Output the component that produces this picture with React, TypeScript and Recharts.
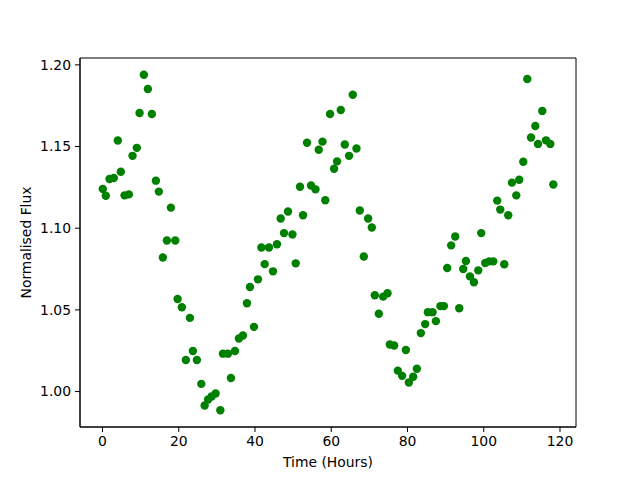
import React from 'react';
import {
  ScatterChart,
  Scatter,
  XAxis,
  YAxis,
  ReferenceArea,
} from 'recharts';

// time of each observation, hours
const timeHours = [
  0.08, 0.87, 1.84, 2.97, 4.02, 4.81, 5.78, 6.91, 7.88, 9.01,
  9.72, 10.85, 11.9, 12.95, 14.0, 14.78, 15.83, 16.89, 17.94, 19.09,
  19.7, 20.82, 21.87, 22.93, 23.71, 24.76, 25.92, 26.79, 27.7, 28.62,
  29.67, 30.91, 31.59, 32.9, 33.69, 34.74, 35.79, 36.84, 37.89, 38.68,
  39.73, 40.78, 41.68, 42.54, 43.67, 44.72, 45.77, 46.74, 47.61, 48.66,
  49.82, 50.68, 51.81, 52.6, 53.65, 54.7, 55.86, 56.72, 57.7, 58.43,
  59.69, 60.74, 61.53, 62.5, 63.55, 64.68, 65.65, 66.62, 67.49, 68.54,
  69.67, 70.64, 71.43, 72.48, 73.61, 74.76, 75.37, 76.5, 77.47, 78.6,
  79.57, 80.36, 81.49, 82.46, 83.51, 84.64, 85.35, 86.58, 87.45, 88.63,
  89.55, 90.42, 91.46, 92.52, 93.57, 94.62, 95.33, 96.38, 97.43, 98.56,
  99.34, 100.39, 101.44, 102.5, 103.54, 104.33, 105.38, 106.43, 107.4, 108.53,
  109.32, 110.37, 111.42, 112.4, 113.53, 114.23, 115.36, 116.33, 117.46, 118.25,
];

// normalised flux at each time
const flux = [
  1.124, 1.1199, 1.1301, 1.1307, 1.1537, 1.1346, 1.1201, 1.1207, 1.1443, 1.1492,
  1.1705, 1.1939, 1.1852, 1.1699, 1.1291, 1.1224, 1.0821, 1.0925, 1.1126, 1.0925,
  1.0567, 1.0516, 1.0193, 1.0451, 1.0248, 1.0193, 1.0047, 0.9915, 0.9951, 0.997,
  0.9988, 0.9886, 1.0232, 1.0232, 1.0083, 1.0248, 1.0325, 1.0343, 1.0541, 1.064,
  1.0396, 1.0687, 1.0882, 1.078, 1.0882, 1.0736, 1.0902, 1.1059, 1.097, 1.1102,
  1.0962, 1.0785, 1.1254, 1.1079, 1.1523, 1.1262, 1.1238, 1.148, 1.153, 1.1171,
  1.1699, 1.1364, 1.1409, 1.1724, 1.1512, 1.1443, 1.1817, 1.1488, 1.1108, 1.0827,
  1.1059, 1.1004, 1.059, 1.0476, 1.0581, 1.0602, 1.0288, 1.0282, 1.0128, 1.0096,
  1.0254, 1.0055, 1.0091, 1.014, 1.0358, 1.0413, 1.0486, 1.0486, 1.0431, 1.0523,
  1.0523, 1.0756, 1.0895, 1.0949, 1.051, 1.075, 1.0799, 1.0705, 1.0669, 1.0742,
  1.097, 1.0787, 1.0797, 1.0797, 1.1169, 1.1114, 1.0779, 1.1079, 1.1279, 1.1201,
  1.1297, 1.1407, 1.1913, 1.1555, 1.1626, 1.1516, 1.1718, 1.1538, 1.1516, 1.1268,
];

const xTicks = [0, 20, 40, 60, 80, 100, 120];
const yTicks = [1.0, 1.05, 1.1, 1.15, 1.2];

const xDomain: [number, number] = [-5.9, 124.2];
const yDomain: [number, number] = [0.9783, 1.2042];

const points = timeHours.map((t, i) => ({ t, f: flux[i] }));

const font = 'DejaVu Sans, sans-serif';
const tickStyle = { fill: '#000', fontSize: 13.9, fontFamily: font };

const Dot = (props: any) => (
  <circle cx={props.cx} cy={props.cy} r={4.2} fill="#008000" />
);

export default function App() {
  return (
    <div style={{ position: 'absolute', left: 0, top: 0, background: '#fff' }}>
      <ScatterChart
        width={640}
        height={480}
        margin={{ top: 58, right: 64, bottom: 13, left: 20 }}
      >
        <XAxis
          type="number"
          dataKey="t"
          domain={xDomain}
          ticks={xTicks}
          allowDataOverflow
          height={40}
          stroke="#000"
          tickSize={5}
          tickMargin={4}
          tick={tickStyle}
          label={{
            value: 'Time (Hours)',
            position: 'insideBottom',
            offset: 0,
            fill: '#000',
            fontSize: 13.9,
            fontFamily: font,
          }}
        />
        <YAxis
          type="number"
          dataKey="f"
          domain={yDomain}
          ticks={yTicks}
          allowDataOverflow
          width={60}
          stroke="#000"
          tickSize={5}
          tickMargin={4}
          tick={tickStyle}
          tickFormatter={(v: number) => v.toFixed(2)}
          label={{
            value: 'Normalised Flux',
            angle: -90,
            position: 'insideLeft',
            offset: 6,
            fill: '#000',
            fontSize: 13.9,
            fontFamily: font,
            style: { textAnchor: 'middle' },
          }}
        />
        <ReferenceArea
          x1={xDomain[0]}
          x2={xDomain[1]}
          y1={yDomain[0]}
          y2={yDomain[1]}
          fill="none"
          stroke="#000"
          strokeWidth={1}
          fillOpacity={0}
        />
        <Scatter data={points} shape={Dot} isAnimationActive={false} />
      </ScatterChart>
    </div>
  );
}
